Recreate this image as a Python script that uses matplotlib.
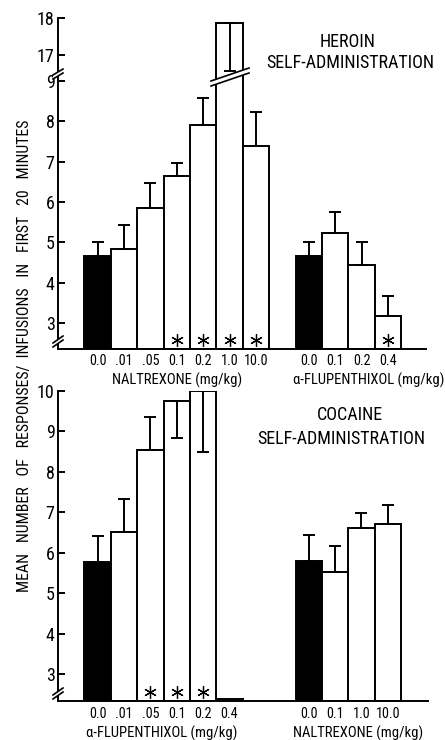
import matplotlib
matplotlib.use('Agg')
import matplotlib.pyplot as plt
from matplotlib import font_manager
from matplotlib.patches import Polygon
from matplotlib.lines import Line2D
import numpy as np

# pick a condensed sans font if one is installed
cands = []
for f in font_manager.fontManager.ttflist:
    fn = f.fname.lower()
    if ('narrow' in fn or 'condensed' in fn or f.stretch in ('condensed', 'semi-condensed')) \
            and f.style == 'normal' and f.weight in (400, 'normal', 'regular', 'book') \
            and 'mono' not in fn and 'serif' not in fn.replace('sans-serif', '').replace('sansserif', '') \
            and 'semi' not in fn and 'extra' not in fn and 'ultra' not in fn:
        cands.append(f)
pref = ['liberationsansnarrow', 'robotocondensed', 'dejavusanscondensed', 'notosans', 'opensans']
chosen = None
for p in pref:
    for f in cands:
        if p in f.fname.lower().replace('-', '').replace('_', ''):
            chosen = f
            break
    if chosen:
        break
if chosen is None and cands:
    chosen = cands[0]
NARROW = chosen is not None
FNAME = chosen.fname if NARROW else None
plt.rcParams['font.family'] = ['Liberation Sans', 'DejaVu Sans']

# ---------------- data ----------------
heroin_nal_doses = ['0.0', '.01', '.05', '0.1', '0.2', '1.0', '10.0']
heroin_nal_mean = [4.67, 4.83, 5.86, 6.65, 7.92, 17.86, 7.38]
heroin_nal_err_up = [0.33, 0.60, 0.61, 0.33, 0.66, 0.0, 0.85]
heroin_nal_err_down = [0.0, 0.0, 0.0, 0.0, 0.0, 1.30, 0.0]
heroin_nal_sig = [False, False, False, True, True, True, True]

heroin_flu_doses = ['0.0', '0.1', '0.2', '0.4']
heroin_flu_mean = [4.67, 5.23, 4.44, 3.18]
heroin_flu_err_up = [0.33, 0.52, 0.56, 0.48]
heroin_flu_err_down = [0.0, 0.0, 0.0, 0.0]
heroin_flu_sig = [False, False, False, True]

cocaine_flu_doses = ['0.0', '.01', '.05', '0.1', '0.2', '0.4']
cocaine_flu_mean = [5.78, 6.52, 8.53, 9.75, 10.0, 0.0]
cocaine_flu_err_up = [0.64, 0.81, 0.82, 0.0, 0.0, 0.0]
cocaine_flu_err_down = [0.0, 0.0, 0.0, 0.92, 1.50, 0.0]
cocaine_flu_sig = [False, False, True, True, True, False]

cocaine_nal_doses = ['0.0', '0.1', '1.0', '10.0']
cocaine_nal_mean = [5.80, 5.51, 6.62, 6.71]
cocaine_nal_err_up = [0.64, 0.66, 0.36, 0.47]
cocaine_nal_err_down = [0.0, 0.0, 0.0, 0.0]
cocaine_nal_sig = [False, False, False, False]

top_title = ['HEROIN', 'SELF-ADMINISTRATION']
bot_title = ['COCAINE', 'SELF-ADMINISTRATION']
top_groups = ['NALTREXONE (mg/kg)', '\u03b1-FLUPENTHIXOL (mg/kg)']
bot_groups = ['\u03b1-FLUPENTHIXOL (mg/kg)', 'NALTREXONE (mg/kg)']
ylabel = 'MEAN   NUMBER   OF   RESPONSES/  INFUSIONS   IN   FIRST   20   MINUTES'

# ---------------- layout ----------------
W, H = 445, 740
DPI = 100
fig = plt.figure(figsize=(W / DPI, H / DPI), dpi=DPI)


def fx(x):
    return x / W


def fy(y):
    return 1 - y / H


def make_ax(x0, x1, ytop, ybot):
    return fig.add_axes([fx(x0), fy(ybot), fx(x1 - x0), (ybot - ytop) / H])


def fprops(size):
    if NARROW:
        return dict(fontproperties=font_manager.FontProperties(fname=FNAME, size=size))
    return dict(fontsize=size * 0.82)


LW = 1.4
ax_hi = make_ax(58, 426, 18, 75)
ax_lo = make_ax(58, 426, 75, 349)
ax_b = make_ax(58, 428, 391, 701)

TOP_LOW = 2.355
BOT_LOW = 2.33
ax_hi.set_ylim(16.46, 18.0)
ax_lo.set_ylim(TOP_LOW, 9.15)
ax_b.set_ylim(BOT_LOW, 10.0)
for a in (ax_hi, ax_lo):
    a.set_xlim(-1.5, 12.44)
ax_b.set_xlim(-1.5, 12.52)

tick_fs = 13
xt_fs = 10.2
lab_fs = 10.5
title_fs = 13
ylab_fs = 11.4


def draw_group(ax, start, means, up, down, sig, ylow):
    means = np.asarray(means, float)
    pos = start + np.arange(len(means))
    heights = np.maximum(means - ylow, 0.04)
    colors = ['black'] + ['white'] * (len(means) - 1)
    ax.bar(pos, heights, bottom=ylow, width=1.0, color=colors,
           edgecolor='black', linewidth=LW, zorder=2)
    up = np.asarray(up, float)
    down = np.asarray(down, float)
    mu = up > 0
    if mu.any():
        ax.errorbar(pos[mu], means[mu], yerr=[np.zeros(mu.sum()), up[mu]],
                    fmt='none', ecolor='black', elinewidth=LW, capsize=4,
                    capthick=LW, zorder=3)
    md = down > 0
    if md.any():
        ax.errorbar(pos[md], means[md], yerr=[down[md], np.zeros(md.sum())],
                    fmt='none', ecolor='black', elinewidth=LW, capsize=4,
                    capthick=LW, zorder=3)
    sig = np.asarray(sig)
    if sig.any():
        ax.plot(pos[sig], np.full(sig.sum(), ylow + 0.22), linestyle='none',
                marker=(6, 2, 0), markersize=9, markeredgewidth=0.9,
                color='black', zorder=4, clip_on=False)
    return pos


def style_ax(ax, xpad, show_bottom=True):
    for s in ('top', 'right'):
        ax.spines[s].set_visible(False)
    ax.spines['left'].set_linewidth(LW)
    ax.spines['bottom'].set_linewidth(LW)
    if not show_bottom:
        ax.spines['bottom'].set_visible(False)
    ax.tick_params(axis='y', direction='in', length=5, width=LW, pad=2.5)
    ax.tick_params(axis='x', length=0, pad=xpad)


def set_ticklabel_font(ax, ysize, xsize):
    for lab in ax.get_yticklabels():
        if NARROW:
            lab.set_fontproperties(font_manager.FontProperties(fname=FNAME, size=ysize))
        else:
            lab.set_fontsize(ysize * 0.82)
    for lab in ax.get_xticklabels():
        if NARROW:
            lab.set_fontproperties(font_manager.FontProperties(fname=FNAME, size=xsize))
        else:
            lab.set_fontsize(xsize * 0.82)


# top panel (both broken-axis pieces)
for ax in (ax_hi, ax_lo):
    p1 = draw_group(ax, 0, heroin_nal_mean, heroin_nal_err_up,
                    heroin_nal_err_down, heroin_nal_sig if ax is ax_lo else [False] * 7, TOP_LOW)
    p2 = draw_group(ax, 8, heroin_flu_mean, heroin_flu_err_up,
                    heroin_flu_err_down, heroin_flu_sig if ax is ax_lo else [False] * 4, TOP_LOW)

style_ax(ax_hi, 3.5, show_bottom=False)
style_ax(ax_lo, 3.5)
ax_hi.set_yticks([17, 18])
ax_hi.set_xticks([])
ax_lo.set_yticks(range(3, 10))
ax_lo.set_xticks(list(p1) + list(p2))
ax_lo.set_xticklabels(heroin_nal_doses + heroin_flu_doses)

# bottom panel
q1 = draw_group(ax_b, 0, cocaine_flu_mean, cocaine_flu_err_up,
                cocaine_flu_err_down, cocaine_flu_sig, BOT_LOW)
q2 = draw_group(ax_b, 8, cocaine_nal_mean, cocaine_nal_err_up,
                cocaine_nal_err_down, cocaine_nal_sig, BOT_LOW)
style_ax(ax_b, 4.3)
ax_b.set_yticks(range(3, 11))
ax_b.set_xticks(list(q1) + list(q2))
ax_b.set_xticklabels(cocaine_flu_doses + cocaine_nal_doses)

for a in (ax_hi, ax_lo, ax_b):
    set_ticklabel_font(a, tick_fs, xt_fs)


def ftext(x, y, s, size, va='center', **kw):
    return fig.text(fx(x), fy(y), s, ha='center', va=va, **fprops(size), **kw)


# group labels
ftext(177, 385, top_groups[0], lab_fs, va='baseline')
ftext(369, 385, top_groups[1], lab_fs, va='baseline')
ftext(162, 738, bot_groups[0], lab_fs, va='baseline')
ftext(358, 738, bot_groups[1], lab_fs, va='baseline')

# titles
ftext(348, 42, top_title[0], title_fs)
ftext(350, 63, top_title[1], title_fs)
ftext(350, 415, bot_title[0], title_fs)
ftext(341, 439, bot_title[1], title_fs)

# y label
ftext(25, 356, ylabel, ylab_fs, rotation=90)


# break marks (decorations in pixel coordinates)
def break_mark(pts1, pts2):
    (xa, ya), (xb, yb) = pts1
    (xc, yc), (xd, yd) = pts2
    poly = Polygon([(fx(xa), fy(ya)), (fx(xb), fy(yb)), (fx(xd), fy(yd)), (fx(xc), fy(yc))],
                   closed=True, transform=fig.transFigure, facecolor='white',
                   edgecolor='none', zorder=10)
    fig.add_artist(poly)
    for (x0, y0), (x1, y1) in (pts1, pts2):
        fig.add_artist(Line2D([fx(x0), fx(x1)], [fy(y0), fy(y1)], color='black',
                              lw=1.2, transform=fig.transFigure, zorder=11))


break_mark(((211, 86), (249, 73)), ((211, 81), (249, 68)))
break_mark(((53, 79), (63, 73)), ((53, 75), (63, 69)))
break_mark(((53, 347), (63, 340)), ((53, 343), (63, 336)))
break_mark(((53, 699), (63, 692)), ((53, 695), (63, 688)))

fig.savefig('out.png', dpi=DPI)
